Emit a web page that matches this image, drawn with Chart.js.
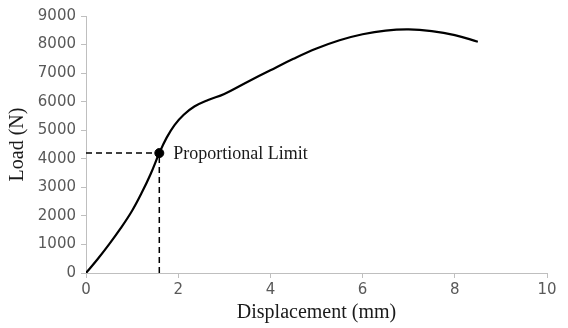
<!DOCTYPE html>
<html>
<head>
<meta charset="utf-8">
<script src="https://cdn.jsdelivr.net/npm/chart.js@4"></script>
<style>
  html, body { margin: 0; padding: 0; background: #fff; }
  #wrap { width: 568px; height: 328px; position: relative; }
</style>
</head>
<body>
<div id="wrap"><canvas id="c" width="568" height="328"></canvas></div>
<script>
// Data
const displacement = [0, 0.25, 0.5, 0.75, 1.0, 1.2, 1.4, 1.59, 1.75, 1.92, 2.12, 2.35, 2.65, 3.0, 3.5, 4.0, 4.5, 5.0, 5.5, 6.0, 6.5, 7.0, 7.5, 8.0, 8.5];
const load = [0, 480, 1000, 1560, 2180, 2780, 3460, 4200, 4740, 5180, 5540, 5830, 6060, 6270, 6690, 7100, 7500, 7860, 8150, 8360, 8490, 8530, 8470, 8330, 8100];
const limitX = 1.59;
const limitLoad = 4200;
const limitLabel = 'Proportional Limit';
const xTicks = [0, 2, 4, 6, 8, 10];
const yTicks = [0, 1000, 2000, 3000, 4000, 5000, 6000, 7000, 8000, 9000];
const xTitle = 'Displacement (mm)';
const yTitle = 'Load (N)';

const curve = displacement.map((x, i) => ({ x: x, y: load[i] }));

const labelPlugin = {
  id: 'limitLabel',
  afterDatasetsDraw(chart) {
    const ctx = chart.ctx;
    const px = chart.scales.x.getPixelForValue(limitX);
    const py = chart.scales.y.getPixelForValue(limitLoad);
    ctx.save();
    ctx.font = '18px "Liberation Serif", "Times New Roman", serif';
    ctx.fillStyle = '#1a1a1a';
    ctx.textAlign = 'left';
    ctx.textBaseline = 'middle';
    ctx.fillText(limitLabel, px + 14, py + 1);
    ctx.restore();
  }
};

new Chart(document.getElementById('c'), {
  type: 'scatter',
  data: {
    datasets: [
      {
        data: curve,
        showLine: true,
        borderColor: '#000',
        borderWidth: 2.2,
        pointRadius: 0,
        tension: 0.4
      },
      {
        data: [{ x: 0, y: limitLoad }, { x: limitX, y: limitLoad }],
        showLine: true,
        borderColor: '#000',
        borderWidth: 1.5,
        borderDash: [6, 4],
        pointRadius: 0
      },
      {
        data: [{ x: limitX, y: 0 }, { x: limitX, y: limitLoad }],
        showLine: true,
        borderColor: '#000',
        borderWidth: 1.5,
        borderDash: [6, 4],
        pointRadius: 0
      },
      {
        data: [{ x: limitX, y: limitLoad }],
        pointRadius: 4.5,
        pointBackgroundColor: '#000',
        pointBorderColor: '#000'
      }
    ]
  },
  options: {
    responsive: false,
    animation: false,
    layout: { padding: { left: 6, right: 21, top: 16, bottom: 3 } },
    plugins: { legend: { display: false }, tooltip: { enabled: false } },
    scales: {
      x: {
        type: 'linear',
        min: 0, max: 10,
        afterBuildTicks(s) { s.ticks = xTicks.map(v => ({ value: v })); },
        afterFit(s) { s.height = 52; },
        grid: { drawOnChartArea: false, color: '#bfbfbf', tickLength: 5 },
        border: { color: '#bfbfbf', width: 1 },
        ticks: {
          color: '#595959',
          padding: 3,
          callback: v => String(v),
          font: { family: '"DejaVu Sans", Verdana, sans-serif', size: 15 }
        },
        title: {
          display: true,
          text: xTitle,
          color: '#1a1a1a',
          padding: 0,
          font: { family: '"Liberation Serif", "Times New Roman", serif', size: 20 }
        }
      },
      y: {
        type: 'linear',
        min: 0, max: 9000,
        afterBuildTicks(s) { s.ticks = yTicks.map(v => ({ value: v })); },
        afterFit(s) { s.width = 80; },
        grid: { drawOnChartArea: false, color: '#bfbfbf', tickLength: 5 },
        border: { color: '#bfbfbf', width: 1 },
        ticks: {
          color: '#595959',
          padding: 5,
          callback: v => String(v),
          font: { family: '"DejaVu Sans", Verdana, sans-serif', size: 15 }
        },
        title: {
          display: true,
          text: yTitle,
          color: '#1a1a1a',
          padding: 0,
          font: { family: '"Liberation Serif", "Times New Roman", serif', size: 20 }
        }
      }
    }
  },
  plugins: [labelPlugin]
});
</script>
</body>
</html>
